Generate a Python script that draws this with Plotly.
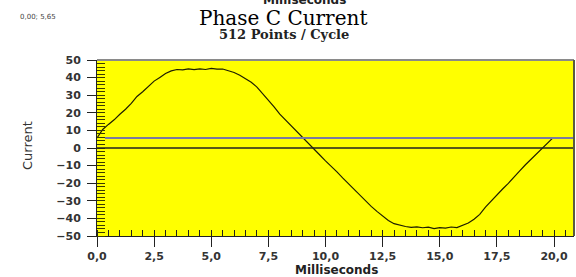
import plotly.graph_objects as go

# ---- data ----
time_ms = [0.00, 0.25, 0.50, 0.75, 1.00, 1.25, 1.50, 1.75, 2.00, 2.25,
           2.50, 2.75, 3.00, 3.25, 3.50, 3.75, 4.00, 4.25, 4.50, 4.75,
           5.00, 5.25, 5.50, 5.75, 6.00, 6.25, 6.50, 6.75, 7.00, 7.25,
           7.50, 7.75, 8.00, 8.25, 8.50, 8.75, 9.00, 9.25, 9.50, 9.75,
           10.00, 10.25, 10.50, 10.75, 11.00, 11.25, 11.50, 11.75, 12.00, 12.25,
           12.50, 12.75, 13.00, 13.25, 13.50, 13.75, 14.00, 14.25, 14.50, 14.75,
           15.00, 15.25, 15.50, 15.75, 16.00, 16.25, 16.50, 16.75, 17.00, 17.25,
           17.50, 17.75, 18.00, 18.25, 18.50, 18.75, 19.00, 19.25, 19.50, 19.75,
           19.94]
current = [5.7, 10.5, 13.4, 16.0, 19.2, 22.0, 25.4, 29.3, 32.0, 35.2,
           38.0, 40.1, 42.3, 43.8, 44.6, 44.4, 44.9, 44.5, 45.0, 44.6,
           45.2, 44.8, 44.9, 43.9, 42.9, 41.3, 39.4, 37.4, 34.6, 31.0,
           27.6, 23.4, 19.2, 15.8, 12.5, 9.2, 6.0, 2.7, -0.7, -4.0,
           -7.3, -10.3, -13.6, -17.0, -20.3, -23.6, -26.8, -30.0, -33.2, -36.0,
           -38.8, -41.2, -43.0, -44.0, -44.6, -45.1, -44.8, -45.3, -45.0, -45.8,
           -45.2, -45.5, -44.9, -45.2, -44.0, -42.6, -40.5, -37.7, -33.6, -30.0,
           -26.7, -23.3, -20.1, -16.8, -13.0, -9.5, -6.3, -3.0, 0.4, 3.2,
           5.65]
cursor_value = 5.65
cursor_label = "0,00; 5,65"
x_tick_vals = [0, 2.5, 5, 7.5, 10, 12.5, 15, 17.5, 20]
x_tick_text = ["0,0", "2,5", "5,0", "7,5", "10,0", "12,5", "15,0", "17,5", "20,0"]
y_tick_vals = [50, 40, 30, 20, 10, 0, -10, -20, -30, -40, -50]
title_text = "Phase C Current"
subtitle_text = "512 Points / Cycle"
x_title = "Milliseconds"
y_title = "Current"

W, H = 576, 277
ML, MR, MT, MB = 97, 2, 60, 41
PW, PH = W - ML - MR, H - MT - MB


def px(xp):
    return (xp - ML) / PW


def py(yp):
    return (H - MB - yp) / PH


fig = go.Figure()
fig.add_trace(go.Scatter(x=time_ms, y=current, mode="lines",
                         line=dict(color="#1e1e00", width=1.2),
                         showlegend=False, hoverinfo="skip"))

tick_font = dict(family="DejaVu Sans", size=11, color="#333333", weight="bold")

fig.update_layout(
    width=W, height=H,
    margin=dict(l=ML, r=MR, t=MT, b=MB, pad=0),
    paper_bgcolor="white", plot_bgcolor="#FFFF00",
    xaxis=dict(range=[0, 20.875], showgrid=False, zeroline=False,
               tickvals=x_tick_vals, ticktext=x_tick_text,
               ticks="outside", ticklen=10, tickwidth=1, tickcolor="#222",
               showline=True, linecolor="#222", linewidth=1,
               tickfont=tick_font,
               minor=dict(dtick=0.5, tick0=0, ticks="inside", ticklen=6,
                          tickwidth=1, tickcolor="#222")),
    yaxis=dict(range=[-50, 50], showgrid=False, zeroline=False,
               tickvals=y_tick_vals,
               ticks="outside", ticklen=9, tickwidth=1, tickcolor="#222",
               showline=True, linecolor="#222", linewidth=1,
               tickfont=tick_font, ticklabelstandoff=4,
               minor=dict(dtick=2, tick0=0, ticks="inside", ticklen=8,
                          tickwidth=1, tickcolor="#3a3a00")),
    shapes=[
        dict(type="line", xref="paper", yref="y", x0=0, x1=1,
             y0=0, y1=0, line=dict(color="#222", width=1.5)),
        dict(type="line", xref="paper", yref="y", x0=px(105), x1=1,
             y0=cursor_value, y1=cursor_value,
             line=dict(color="#7b7ba0", width=2)),
        dict(type="line", xref="paper", yref="paper", x0=0, x1=1,
             y0=1, y1=1, line=dict(color="#8a8a8a", width=2)),
        dict(type="line", xref="paper", yref="paper", x0=1, x1=1,
             y0=0, y1=1, line=dict(color="#5a5a40", width=2)),
    ],
    annotations=[
        dict(text=title_text, xref="paper", yref="paper", x=px(283), y=py(17.5),
             xanchor="center", yanchor="middle", showarrow=False,
             font=dict(family="DejaVu Serif", size=20, color="#000")),
        dict(text=subtitle_text, xref="paper", yref="paper", x=px(284), y=py(35),
             xanchor="center", yanchor="middle", showarrow=False,
             font=dict(family="DejaVu Serif", size=13, color="#222", weight="bold")),
        dict(text=x_title, xref="paper", yref="paper", x=px(304), y=py(0),
             xanchor="center", yanchor="middle", showarrow=False,
             font=dict(family="DejaVu Sans", size=12, color="#222", weight="bold")),
        dict(text=cursor_label, xref="paper", yref="paper", x=px(18), y=py(17),
             xanchor="left", yanchor="middle", showarrow=False,
             font=dict(family="DejaVu Sans", size=7, color="#444")),
        dict(text=x_title, xref="paper", yref="paper", x=px(336), y=py(270),
             xanchor="center", yanchor="middle", showarrow=False,
             font=dict(family="DejaVu Sans", size=12, color="#222", weight="bold")),
        dict(text=y_title, xref="paper", yref="paper", x=px(27), y=py(146),
             xanchor="center", yanchor="middle", showarrow=False, textangle=-90,
             font=dict(family="DejaVu Sans", size=13, color="#333")),
    ],
)

fig.write_html("out.html", config={"displayModeBar": False},
               post_script="document.body.style.margin='0';document.body.style.padding='0';")
